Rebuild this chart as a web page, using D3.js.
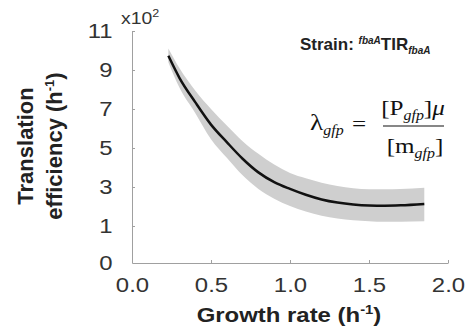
<!DOCTYPE html>
<html>
<head>
<meta charset="utf-8">
<script src="https://cdn.jsdelivr.net/npm/d3@7"></script>
<style>
  body { margin: 0; background: #fff; }
  svg { display: block; font-family: "Liberation Sans", Arial, sans-serif; }
</style>
</head>
<body>
<div id="chart"></div>
<script>
// Growth rate (h-1) sample points
const growth = [0.23, 0.3, 0.4, 0.5, 0.6, 0.7, 0.8, 0.9, 1.0, 1.1, 1.2, 1.3, 1.4, 1.5, 1.6, 1.7, 1.85];
// Translation efficiency (x10^2 h-1): fit and its confidence band
const efficiency = [9.73, 8.6, 7.35, 6.2, 5.3, 4.45, 3.75, 3.25, 2.9, 2.6, 2.36, 2.2, 2.1, 2.05, 2.04, 2.06, 2.13];
const upper = [10.1, 9.1, 7.95, 7.0, 6.15, 5.35, 4.7, 4.15, 3.72, 3.45, 3.22, 3.05, 2.94, 2.89, 2.88, 2.9, 2.96];
const lower = [9.4, 8.1, 6.8, 5.45, 4.5, 3.6, 2.9, 2.4, 2.02, 1.74, 1.52, 1.38, 1.3, 1.25, 1.22, 1.22, 1.24];

const xTicks = [0, 0.5, 1.0, 1.5, 2.0];
const yTicks = [0, 1, 3, 5, 7, 9, 11];

const W = 469, H = 331;
const STRETCH = 1.14; // the original text is a little wider than Arial

const svg = d3.select("#chart").append("svg")
  .attr("width", W).attr("height", H);

const x = d3.scaleLinear().domain([0, 2]).range([132, 448]);
// the bottom of the axis is squeezed in the original: 0 sits further below 1
const y = d3.scaleLinear().domain([0, 1, 11]).range([263, 226, 31]);

const pts = growth.map((g, i) => ({g: g, m: efficiency[i], hi: upper[i], lo: lower[i]}));

// confidence band
svg.append("path")
  .datum(pts)
  .attr("fill", "#cfcfcf")
  .attr("d", d3.area().curve(d3.curveMonotoneX)
    .x(d => x(d.g)).y0(d => y(d.lo)).y1(d => y(d.hi)));

// fitted line
svg.append("path")
  .datum(pts)
  .attr("fill", "none")
  .attr("stroke", "#111")
  .attr("stroke-width", 2.5)
  .attr("d", d3.line().curve(d3.curveMonotoneX)
    .x(d => x(d.g)).y(d => y(d.m)));

// axes
const xAxis = svg.append("g")
  .attr("transform", `translate(0,${y(0)})`)
  .call(d3.axisBottom(x).tickValues(xTicks).tickFormat(d3.format(".1f"))
    .tickSizeInner(-3).tickSizeOuter(0).tickPadding(14));

const yAxis = svg.append("g")
  .attr("transform", `translate(${x(0)},0)`)
  .call(d3.axisLeft(y).tickValues(yTicks).tickFormat(d3.format("d"))
    .tickSizeInner(-3).tickSizeOuter(0).tickPadding(17));

[xAxis, yAxis].forEach(a => {
  a.select(".domain").attr("stroke", "#a0a0a0");
  a.selectAll(".tick line").attr("stroke", "#a0a0a0");
  a.selectAll(".tick text").attr("font-size", 21).attr("fill", "#333")
    .attr("font-family", "Liberation Sans, Arial, sans-serif")
    .attr("transform", `scale(${STRETCH},1)`);
});
yAxis.selectAll(".tick").filter(d => d === 0).select("line").remove();

// multiplier
svg.append("text")
  .attr("transform", `translate(121,24) scale(${STRETCH},1)`)
  .attr("font-size", 17).attr("fill", "#333")
  .text("x10")
  .append("tspan").attr("dy", -7).attr("font-size", 11).text("2");

// axis titles
svg.append("text")
  .attr("transform", `translate(289,322) scale(${STRETCH},1)`)
  .attr("text-anchor", "middle")
  .attr("font-weight", "bold").attr("font-size", 21).attr("fill", "#222")
  .text("Growth rate (h")
  .call(t => {
    t.append("tspan").attr("dy", -8).attr("font-size", 13).text("-1");
    t.append("tspan").attr("dy", 8).text(")");
  });

const yTitle = svg.append("g").attr("transform", "translate(0,146) rotate(-90)");
yTitle.append("text")
  .attr("x", 0).attr("y", 33)
  .attr("text-anchor", "middle")
  .attr("font-weight", "bold").attr("font-size", 22).attr("fill", "#222")
  .text("Translation");
yTitle.append("text")
  .attr("x", 0).attr("y", 62)
  .attr("text-anchor", "middle")
  .attr("font-weight", "bold").attr("font-size", 22).attr("fill", "#222")
  .text("efficiency (h")
  .call(t => {
    t.append("tspan").attr("dy", -8).attr("font-size", 13).text("-1");
    t.append("tspan").attr("dy", 8).text(")");
  });

// strain label
const strain = svg.append("text")
  .attr("x", 300).attr("y", 50)
  .attr("font-weight", "bold").attr("font-size", 17).attr("fill", "#222")
  .text("Strain: ");
strain.append("tspan").attr("dy", -6).attr("font-size", 10)
  .attr("font-style", "italic").text("fbaA");
strain.append("tspan").attr("dy", 6).text("TIR");
strain.append("tspan").attr("dy", 4).attr("font-size", 10)
  .attr("font-style", "italic").text("fbaA");

// formula
const serif = "Liberation Serif, Times New Roman, serif";
const f = svg.append("g").attr("font-family", serif).attr("fill", "#111");
f.append("text").attr("transform", `translate(310,130) scale(${STRETCH},1)`).attr("font-size", 24)
  .text("λ")
  .append("tspan").attr("dy", 5).attr("font-size", 14).attr("font-style", "italic").text("gfp");
f.append("text").attr("transform", `translate(352,131) scale(${STRETCH},1)`).attr("font-size", 22).text("=");
f.append("text").attr("transform", `translate(413,115) scale(${STRETCH},1)`).attr("font-size", 22)
  .attr("text-anchor", "middle")
  .text("[P")
  .call(t => {
    t.append("tspan").attr("dy", 5).attr("font-size", 14).attr("font-style", "italic").text("gfp");
    t.append("tspan").attr("dy", -5).text("]");
    t.append("tspan").attr("font-style", "italic").text("μ");
  });
f.append("line").attr("x1", 383).attr("x2", 444).attr("y1", 126).attr("y2", 126)
  .attr("stroke", "#111").attr("stroke-width", 1.2);
f.append("text").attr("transform", `translate(415,153) scale(${STRETCH},1)`).attr("font-size", 22)
  .attr("text-anchor", "middle")
  .text("[m")
  .call(t => {
    t.append("tspan").attr("dy", 5).attr("font-size", 14).attr("font-style", "italic").text("gfp");
    t.append("tspan").attr("dy", -5).text("]");
  });
</script>
</body>
</html>
